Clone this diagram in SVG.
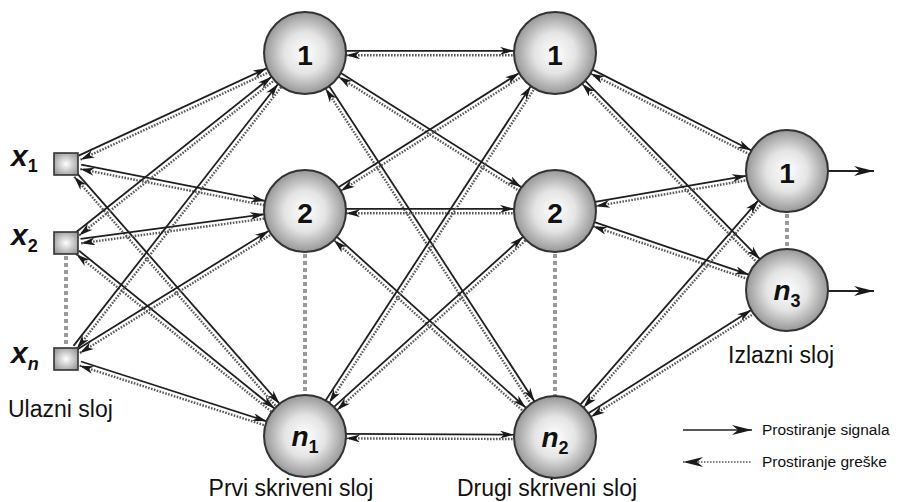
<svg xmlns="http://www.w3.org/2000/svg" width="901" height="502" viewBox="0 0 901 502">
<defs>
<radialGradient id="g" cx="50%" cy="50%" r="50%">
<stop offset="0%" stop-color="#ffffff"/>
<stop offset="50%" stop-color="#e4e4e4"/>
<stop offset="100%" stop-color="#979797"/>
</radialGradient>
<radialGradient id="gs" cx="50%" cy="50%" r="60%">
<stop offset="0%" stop-color="#ffffff"/>
<stop offset="100%" stop-color="#9a9a9a"/>
</radialGradient>
<marker id="ah" viewBox="0 0 14 8" refX="14" refY="4" markerWidth="14" markerHeight="8" markerUnits="userSpaceOnUse" orient="auto-start-reverse">
<path d="M0,0 L14,4 L0,8 L4,4 Z" fill="#1a1a1a"/>
</marker>
<marker id="big" viewBox="0 0 20 10" refX="20" refY="5" markerWidth="20" markerHeight="10" markerUnits="userSpaceOnUse" orient="auto-start-reverse">
<path d="M0,0 L20,5 L0,10 L6,5 Z" fill="#1a1a1a"/>
</marker>
<style>
.s{stroke:#1e1e1e;stroke-width:1.8;fill:none;marker-end:url(#ah)}
.d{stroke:#5a5a5a;stroke-width:2.4;stroke-dasharray:1.6 1.4;fill:none;marker-start:url(#ah)}
.vd{stroke:#9a9a9a;stroke-width:4;stroke-dasharray:4 3;fill:none}
.node circle{fill:url(#g);stroke:#333;stroke-width:2}
.inp rect{fill:url(#gs);stroke:#333;stroke-width:1.6}
.num{font-family:"Liberation Sans",Arial,sans-serif;font-weight:bold;font-size:28px;text-anchor:middle;fill:#111}
.it{font-style:italic}
.sub{font-size:18px;font-style:normal}
.xl{font-family:"Liberation Sans",Arial,sans-serif;font-weight:bold;font-style:italic;font-size:30px;fill:#111}
.lbl{font-family:"Liberation Sans",Arial,sans-serif;font-size:23px;fill:#111}
.leg{font-family:"Liberation Sans",Arial,sans-serif;font-size:15.5px;fill:#111}
.out{stroke:#222;stroke-width:1.8;fill:none;marker-end:url(#big)}
</style>
</defs>
<rect width="901" height="502" fill="#fff"/>

<g id="connectors">
<g transform="translate(66,164) rotate(-24.91)"><line class="s" x1="15" y1="-2.2" x2="222.5" y2="-2.2"/><line class="d" x1="15" y1="2.2" x2="222.5" y2="2.2"/></g>
<g transform="translate(66,164) rotate(11.13)"><line class="s" x1="15" y1="-2.2" x2="202.6" y2="-2.2"/><line class="d" x1="15" y1="2.2" x2="202.6" y2="2.2"/></g>
<g transform="translate(66,164) rotate(48.70)"><line class="s" x1="15" y1="-2.2" x2="321.1" y2="-2.2"/><line class="d" x1="15" y1="2.2" x2="321.1" y2="2.2"/></g>
<g transform="translate(66,243) rotate(-38.48)"><line class="s" x1="15" y1="-2.2" x2="264.3" y2="-2.2"/><line class="d" x1="15" y1="2.2" x2="264.3" y2="2.2"/></g>
<g transform="translate(66,243) rotate(-7.63)"><line class="s" x1="15" y1="-2.2" x2="200.1" y2="-2.2"/><line class="d" x1="15" y1="2.2" x2="200.1" y2="2.2"/></g>
<g transform="translate(66,243) rotate(38.92)"><line class="s" x1="15" y1="-2.2" x2="266.2" y2="-2.2"/><line class="d" x1="15" y1="2.2" x2="266.2" y2="2.2"/></g>
<g transform="translate(66,359) rotate(-52.01)"><line class="s" x1="15" y1="-2.2" x2="347.3" y2="-2.2"/><line class="d" x1="15" y1="2.2" x2="347.3" y2="2.2"/></g>
<g transform="translate(66,359) rotate(-31.77)"><line class="s" x1="15" y1="-2.2" x2="240.1" y2="-2.2"/><line class="d" x1="15" y1="2.2" x2="240.1" y2="2.2"/></g>
<g transform="translate(66,359) rotate(17.86)"><line class="s" x1="15" y1="-2.2" x2="210.1" y2="-2.2"/><line class="d" x1="15" y1="2.2" x2="210.1" y2="2.2"/></g>
<g transform="translate(305,53) rotate(0)"><line class="s" x1="41" y1="-2.2" x2="209" y2="-2.2"/><line class="d" x1="41" y1="2.2" x2="209" y2="2.2"/></g>
<g transform="translate(305,53) rotate(32.29)"><line class="s" x1="41" y1="-2.2" x2="254.7" y2="-2.2"/><line class="d" x1="41" y1="2.2" x2="254.7" y2="2.2"/></g>
<g transform="translate(305,53) rotate(56.93)"><line class="s" x1="41" y1="-2.2" x2="417.2" y2="-2.2"/><line class="d" x1="41" y1="2.2" x2="417.2" y2="2.2"/></g>
<g transform="translate(305,211) rotate(-32.29)"><line class="s" x1="41" y1="-2.2" x2="254.7" y2="-2.2"/><line class="d" x1="41" y1="2.2" x2="254.7" y2="2.2"/></g>
<g transform="translate(305,211) rotate(0)"><line class="s" x1="41" y1="-2.2" x2="209" y2="-2.2"/><line class="d" x1="41" y1="2.2" x2="209" y2="2.2"/></g>
<g transform="translate(305,211) rotate(42.12)"><line class="s" x1="41" y1="-2.2" x2="296" y2="-2.2"/><line class="d" x1="41" y1="2.2" x2="296" y2="2.2"/></g>
<g transform="translate(305,436) rotate(-56.86)"><line class="s" x1="41" y1="-2.2" x2="416.4" y2="-2.2"/><line class="d" x1="41" y1="2.2" x2="416.4" y2="2.2"/></g>
<g transform="translate(305,436) rotate(-41.99)"><line class="s" x1="41" y1="-2.2" x2="295.3" y2="-2.2"/><line class="d" x1="41" y1="2.2" x2="295.3" y2="2.2"/></g>
<g transform="translate(305,436) rotate(0.23)"><line class="s" x1="41" y1="-2.2" x2="209" y2="-2.2"/><line class="d" x1="41" y1="2.2" x2="209" y2="2.2"/></g>
<g transform="translate(555,53) rotate(26.96)"><line class="s" x1="41" y1="-2.2" x2="219.3" y2="-2.2"/><line class="d" x1="41" y1="2.2" x2="219.3" y2="2.2"/></g>
<g transform="translate(555,53) rotate(45.61)"><line class="s" x1="41" y1="-2.2" x2="290.7" y2="-2.2"/><line class="d" x1="41" y1="2.2" x2="290.7" y2="2.2"/></g>
<g transform="translate(555,211) rotate(-9.78)"><line class="s" x1="41" y1="-2.2" x2="194.4" y2="-2.2"/><line class="d" x1="41" y1="2.2" x2="194.4" y2="2.2"/></g>
<g transform="translate(555,211) rotate(18.80)"><line class="s" x1="41" y1="-2.2" x2="204.1" y2="-2.2"/><line class="d" x1="41" y1="2.2" x2="204.1" y2="2.2"/></g>
<g transform="translate(555,437) rotate(-48.90)"><line class="s" x1="41" y1="-2.2" x2="312" y2="-2.2"/><line class="d" x1="41" y1="2.2" x2="312" y2="2.2"/></g>
<g transform="translate(555,437) rotate(-32.36)"><line class="s" x1="41" y1="-2.2" x2="233.7" y2="-2.2"/><line class="d" x1="41" y1="2.2" x2="233.7" y2="2.2"/></g>
<line class="out" x1="828" y1="171" x2="874" y2="171"/>
<line class="out" x1="828" y1="291" x2="874" y2="291"/>
<line class="vd" x1="66" y1="256" x2="66" y2="346"/>
<line class="vd" x1="305" y1="254" x2="305" y2="394"/>
<line class="vd" x1="555" y1="254" x2="555" y2="395"/>
<line class="vd" x1="787" y1="214" x2="787" y2="248"/>
</g>

<g id="in1" class="inp"><rect x="54" y="153" width="24" height="22"/><text class="xl" x="11" y="166">x<tspan class="sub" dy="6">1</tspan></text></g>
<g id="in2" class="inp"><rect x="54" y="232" width="24" height="22"/><text class="xl" x="11" y="245">x<tspan class="sub" dy="7">2</tspan></text></g>
<g id="inn" class="inp"><rect x="54" y="348" width="24" height="22"/><text class="xl" x="11" y="363">x<tspan class="sub" dy="7" style="font-style:italic">n</tspan></text></g>

<g id="h1" class="node"><circle cx="305" cy="53" r="41"/><text class="num" x="305" y="65">1</text></g>
<g id="h2" class="node"><circle cx="305" cy="211" r="41"/><text class="num" x="305" y="223">2</text></g>
<g id="h3" class="node"><circle cx="305" cy="436" r="41"/><text class="num" x="305" y="446"><tspan class="it">n</tspan><tspan class="sub" dy="7">1</tspan></text></g>

<g id="j1" class="node"><circle cx="555" cy="53" r="41"/><text class="num" x="555" y="65">1</text></g>
<g id="j2" class="node"><circle cx="555" cy="211" r="41"/><text class="num" x="555" y="223">2</text></g>
<g id="j3" class="node"><circle cx="555" cy="437" r="41"/><text class="num" x="555" y="447"><tspan class="it">n</tspan><tspan class="sub" dy="7">2</tspan></text></g>

<g id="o1" class="node"><circle cx="787" cy="171" r="41"/><text class="num" x="787" y="183">1</text></g>
<g id="o2" class="node"><circle cx="787" cy="290" r="41"/><text class="num" x="787" y="300"><tspan class="it">n</tspan><tspan class="sub" dy="7">3</tspan></text></g>

<g id="labels">
<text class="lbl" x="8" y="417">Ulazni sloj</text>
<text class="lbl" x="291" y="496" text-anchor="middle">Prvi skriveni sloj</text>
<text class="lbl" x="547" y="496" text-anchor="middle">Drugi skriveni sloj</text>
<text class="lbl" x="728" y="363">Izlazni sloj</text>
</g>

<g id="legend">
<line x1="683" y1="430" x2="752" y2="430" stroke="#222" stroke-width="1.6" marker-end="url(#big)"/>
<text class="leg" x="762" y="435">Prostiranje signala</text>
<line x1="683" y1="462" x2="752" y2="462" stroke="#555" stroke-width="1.6" stroke-dasharray="1.5 1.5" marker-start="url(#big)"/>
<text class="leg" x="762" y="467">Prostiranje greške</text>
</g>
</svg>
